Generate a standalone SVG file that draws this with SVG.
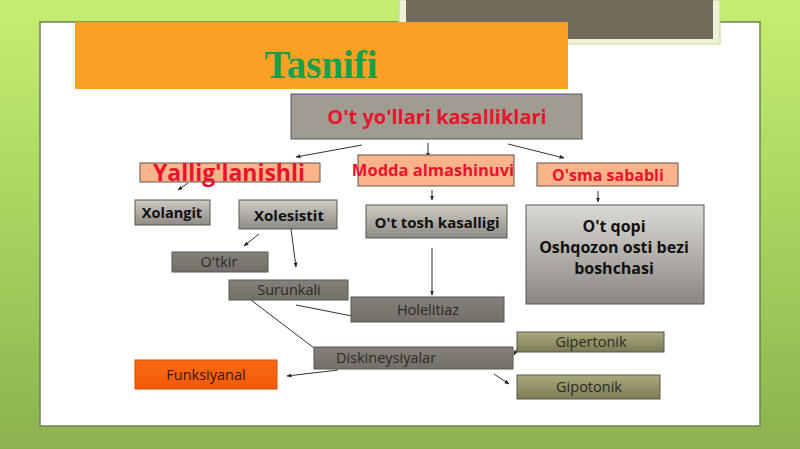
<svg xmlns="http://www.w3.org/2000/svg" width="800" height="449" viewBox="0 0 800 449">
<defs>
<linearGradient id="bg" x1="0" y1="0" x2="0" y2="1">
<stop offset="0" stop-color="#c6ee72"/>
<stop offset="0.5" stop-color="#a6d45e"/>
<stop offset="1" stop-color="#8bb24f"/>
</linearGradient>
<linearGradient id="grey" x1="0" y1="0" x2="0" y2="1">
<stop offset="0" stop-color="#cfccc6"/>
<stop offset="1" stop-color="#8e8a84"/>
</linearGradient>
<linearGradient id="greyBig" x1="0" y1="0" x2="0" y2="1">
<stop offset="0" stop-color="#dcdad6"/>
<stop offset="1" stop-color="#8a8580"/>
</linearGradient>
<linearGradient id="dark" x1="0" y1="0" x2="0" y2="1">
<stop offset="0" stop-color="#85817a"/>
<stop offset="1" stop-color="#736f69"/>
</linearGradient>
<linearGradient id="olive" x1="0" y1="0" x2="0" y2="1">
<stop offset="0" stop-color="#aaa97c"/>
<stop offset="1" stop-color="#7d7c55"/>
</linearGradient>
<linearGradient id="orng" x1="0" y1="0" x2="0" y2="1">
<stop offset="0" stop-color="#fb6a12"/>
<stop offset="1" stop-color="#f25a08"/>
</linearGradient>
<marker id="ah" viewBox="0 0 10 10" refX="9" refY="5" markerWidth="5" markerHeight="5" orient="auto">
<path d="M0,1 L10,5 L0,9 z" fill="#222"/>
</marker>
<style>
.conn{stroke:#333;stroke-width:1;fill:none}
.arr{marker-end:url(#ah)}
.bx{stroke:#5a5650;stroke-width:1}
.red{font-family:"Open Sans","Liberation Sans",sans-serif;font-weight:bold;fill:#e8132c;text-anchor:middle}
.blk{font-family:"Open Sans","Liberation Sans",sans-serif;font-weight:bold;fill:#111;text-anchor:middle}
.lbl{font-family:"Open Sans","Liberation Sans",sans-serif;fill:#2a2a26;text-anchor:middle;font-size:14.5px}
</style>
</defs>
<rect x="0" y="0" width="800" height="449" fill="url(#bg)"/>
<rect x="40" y="22" width="720" height="404" fill="#ffffff" stroke="#6f7f52" stroke-width="1.5"/>
<rect x="399" y="0" width="321" height="44" fill="#eef3d8" stroke="#c4d88a" stroke-width="1"/>
<rect x="406" y="0" width="307" height="39" fill="#736a5c"/>

<g id="title">
<rect x="75" y="22" width="493" height="67" fill="#f9a123"/>
<text x="321" y="78" font-family="Liberation Serif,serif" font-weight="bold" font-size="40" fill="#17a04c" text-anchor="middle" textLength="113" lengthAdjust="spacingAndGlyphs">Tasnifi</text>
</g>

<g id="connectors">
<line class="conn arr" x1="362" y1="145" x2="296" y2="157"/>
<line class="conn arr" x1="428" y1="143" x2="428" y2="157"/>
<line class="conn arr" x1="508" y1="144" x2="564" y2="158"/>
<line class="conn arr" x1="188" y1="183" x2="178" y2="190"/>
<line class="conn arr" x1="432" y1="190" x2="432" y2="200"/>
<line class="conn arr" x1="598" y1="191" x2="598" y2="202"/>
<line class="conn arr" x1="259" y1="234" x2="244" y2="246"/>
<line class="conn arr" x1="291" y1="229" x2="296" y2="267"/>
<line class="conn arr" x1="432" y1="248" x2="432" y2="295"/>
<line class="conn" x1="296" y1="305" x2="352" y2="316"/>
<line class="conn" x1="251" y1="300" x2="314" y2="348"/>
<line class="conn arr" x1="517" y1="349" x2="514" y2="355"/>
<line class="conn arr" x1="494" y1="374" x2="509" y2="384"/>
<line class="conn arr" x1="338" y1="370" x2="287" y2="376"/>
</g>

<g id="root">
<rect class="bx" x="291" y="94" width="291" height="45" fill="#a19c92"/>
<text class="red" x="437" y="124" font-size="20">O't yo'llari kasalliklari</text>
</g>

<g id="yallig">
<rect class="bx" x="140" y="163" width="180" height="19" fill="#fbb38a"/>
<text class="red" x="229" y="181" font-size="23">Yallig'lanishli</text>
</g>

<g id="modda">
<rect class="bx" x="358" y="155" width="156" height="31" fill="#fbb38a"/>
<text class="red" x="433" y="176" font-size="16.5">Modda almashinuvi</text>
</g>

<g id="osma">
<rect class="bx" x="537" y="163" width="141" height="23" fill="#fbb38a"/>
<text class="red" x="608" y="181" font-size="16">O'sma sababli</text>
</g>

<g id="xolangit">
<rect class="bx" x="135" y="200" width="75" height="25" fill="url(#grey)"/>
<text class="blk" x="172" y="218" font-size="14.5">Xolangit</text>
</g>

<g id="xolesistit">
<rect class="bx" x="239" y="200" width="98" height="29" fill="url(#grey)"/>
<text class="blk" x="289" y="221" font-size="15">Xolesistit</text>
</g>

<g id="ottosh">
<rect class="bx" x="366" y="205" width="141" height="33" fill="url(#grey)"/>
<text class="blk" x="437" y="228" font-size="15">O't tosh kasalligi</text>
</g>

<g id="otqopi">
<rect class="bx" x="526" y="205" width="178" height="99" fill="url(#greyBig)"/>
<text class="blk" x="614" y="232" font-size="16">O't qopi</text>
<text class="blk" x="614" y="253" font-size="16">Oshqozon osti bezi</text>
<text class="blk" x="614" y="274" font-size="16">boshchasi</text>
</g>

<g id="otkir">
<rect class="bx" x="172" y="252" width="96" height="20" fill="url(#dark)"/>
<text class="lbl" x="219" y="267">O'tkir</text>
</g>

<g id="surunkali">
<rect class="bx" x="229" y="280" width="119" height="20" fill="url(#dark)"/>
<text class="lbl" x="289" y="295">Surunkali</text>
</g>

<g id="holelitiaz">
<rect class="bx" x="351" y="297" width="153" height="25" fill="url(#dark)"/>
<text class="lbl" x="428" y="315">Holelitiaz</text>
</g>

<g id="diskineysiyalar">
<rect class="bx" x="314" y="347" width="199" height="22" fill="url(#dark)"/>
<text class="lbl" x="386" y="363">Diskineysiyalar</text>
</g>

<g id="gipertonik">
<rect class="bx" x="517" y="332" width="147" height="20" fill="url(#olive)"/>
<text class="lbl" x="591" y="347">Gipertonik</text>
</g>

<g id="gipotonik">
<rect class="bx" x="517" y="375" width="143" height="24" fill="url(#olive)"/>
<text class="lbl" x="589" y="392">Gipotonik</text>
</g>

<g id="funksiyanal">
<rect x="135" y="360" width="142" height="29" fill="url(#orng)" stroke="#d05008" stroke-width="1"/>
<text class="lbl" x="206" y="380" style="fill:#3a1508">Funksiyanal</text>
</g>
</svg>
